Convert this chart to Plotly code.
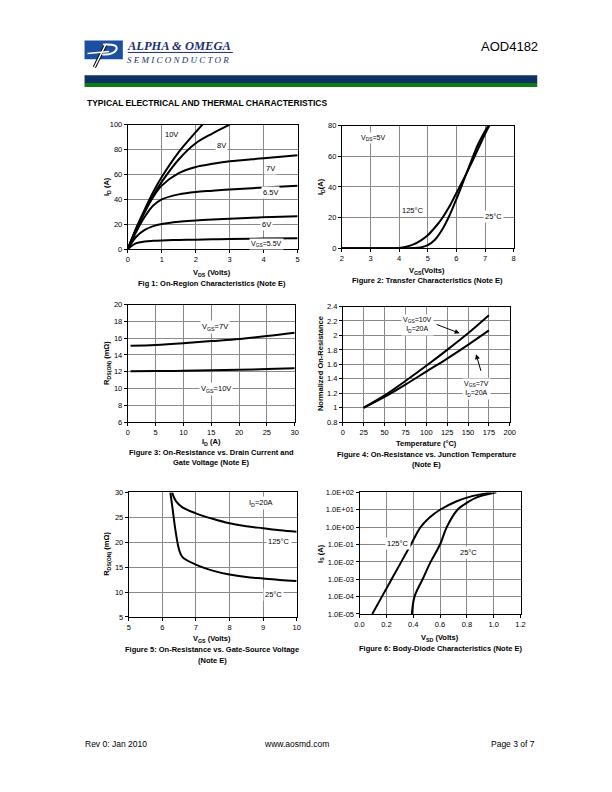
import plotly.graph_objects as go

W, H = 612, 792
def X(px): return px / W
def Y(py): return 1 - py / H

# ---------------- DATA ----------------
# Fig 1: On-region characteristics (ID vs VDS)
f1_vds_10 = [0, 0.25, 0.5, 0.75, 1.0, 1.5, 2.0, 2.2]
f1_id_10 = [0, 17, 32, 46, 58, 78, 94, 100]
f1_vds_8 = [0, 0.25, 0.5, 0.75, 1.0, 1.5, 2.0, 2.5, 3.0]
f1_id_8 = [0, 16, 30, 43, 54, 72, 85, 93, 100]
f1_vds = [0, 0.25, 0.5, 0.75, 1.0, 1.5, 2.0, 2.5, 3.0, 4.0, 5.0]
f1_id_7 = [0, 16, 30, 42, 51, 61, 66, 68.5, 70.5, 73, 75.5]
f1_id_65 = [0, 14, 26, 35, 40, 44, 46, 47, 48, 49.5, 51]
f1_id_6 = [0, 10, 15.5, 18.5, 20.2, 22, 23, 23.8, 24.5, 25.6, 26.5]
f1_id_55 = [0, 4.8, 6.2, 6.7, 7.0, 7.4, 7.6, 7.9, 8.1, 8.5, 8.8]

# Fig 2: Transfer characteristics (ID vs VGS)
f2_vgs_125 = [2, 3, 4.0, 4.25, 4.5, 4.75, 5.0, 5.25, 5.5, 5.75, 6.0, 6.25, 6.5, 6.75, 7.0, 7.15]
f2_id_125 = [0, 0, 0.2, 1.0, 2.5, 5, 8.5, 13.5, 19.5, 27, 36, 45, 54.5, 64.5, 74.5, 80]
f2_vgs_25 = [2, 3, 4.0, 4.5, 4.75, 5.0, 5.25, 5.5, 5.75, 6.0, 6.25, 6.5, 6.75, 7.0, 7.12]
f2_id_25 = [0, 0, 0, 0.1, 0.5, 2, 5.5, 12, 21, 32, 44, 56, 67.5, 76.5, 80]

# Fig 3: RDS(on) vs ID
f3_id = [0.5, 5, 10, 15, 20, 25, 30]
f3_r_7 = [15.1, 15.2, 15.4, 15.65, 15.9, 16.25, 16.65]
f3_r_10 = [12.05, 12.08, 12.12, 12.18, 12.25, 12.32, 12.42]

# Fig 4: Normalized on-resistance vs temperature
f4_t = [25, 50, 75, 100, 125, 150, 175]
f4_r_10 = [1.0, 1.17, 1.37, 1.58, 1.8, 2.03, 2.28]
f4_r_7 = [1.0, 1.15, 1.32, 1.5, 1.68, 1.87, 2.07]

# Fig 5: RDS(on) vs VGS
f5_vgs_25 = [6.24, 6.3, 6.4, 6.5, 6.6, 7.0, 7.5, 8.0, 8.5, 9.0, 9.5, 10.0]
f5_r_25 = [30, 27, 22, 18.5, 17, 15.5, 14.3, 13.5, 13.0, 12.7, 12.4, 12.2]
f5_vgs_125 = [6.29, 6.4, 6.6, 7.0, 7.5, 8.0, 8.5, 9.0, 9.5, 10.0]
f5_r_125 = [30, 28.3, 27, 25.8, 24.7, 23.8, 23.2, 22.8, 22.4, 22.1]

# Fig 6: Body diode characteristics
f6_v_125 = [0.095, 0.167, 0.239, 0.311, 0.383, 0.455, 0.52, 0.6, 0.72, 0.82, 0.98]
f6_i_125 = [1e-5, 1e-4, 1e-3, 1e-2, 1e-1, 1e0, 3.5, 1e1, 30, 55, 100]
f6_v_25 = [0.39, 0.41, 0.47, 0.53, 0.60, 0.65, 0.73, 0.78, 0.87, 1.02]
f6_i_25 = [1e-5, 1e-4, 1e-3, 1e-2, 1e-1, 1e0, 1e1, 20, 50, 100]
f6_tickvals = [1e-5, 1e-4, 1e-3, 1e-2, 1e-1, 1e0, 1e1, 1e2]
f6_ticktext = ["1.0E-05", "1.0E-04", "1.0E-03", "1.0E-02", "1.0E-01", "1.0E+00", "1.0E+01", "1.0E+02"]

# ---------------- FIGURE ----------------
FONT = "Liberation Sans, Arial, sans-serif"
fig = go.Figure()
line = dict(color="black", width=2)

def add(x, y, n, shape="spline"):
    fig.add_trace(go.Scatter(x=x, y=y, mode="lines", line=dict(line, shape=shape),
                             xaxis="x" + ("" if n == 1 else str(n)),
                             yaxis="y" + ("" if n == 1 else str(n)),
                             showlegend=False, hoverinfo="skip"))

for xs, ys in [(f1_vds_10, f1_id_10), (f1_vds_8, f1_id_8), (f1_vds, f1_id_7),
               (f1_vds, f1_id_65), (f1_vds, f1_id_6), (f1_vds, f1_id_55)]:
    add(xs, ys, 1)
add(f2_vgs_125, f2_id_125, 2)
add(f2_vgs_25, f2_id_25, 2)
add(f3_id, f3_r_7, 3)
add(f3_id, f3_r_10, 3)
add(f4_t, f4_r_10, 4)
add(f4_t, f4_r_7, 4)
add(f5_vgs_25, f5_r_25, 5)
add(f5_vgs_125, f5_r_125, 5)
add(f6_v_125, f6_i_125, 6)
add(f6_v_25, f6_i_25, 6)

def xax(x0, x1, rng, dtick, fmt=None):
    d = dict(domain=[X(x0), X(x1)], range=rng, dtick=dtick, tick0=rng[0],
             showgrid=True, gridcolor="#8a8a8a", gridwidth=1,
             showline=True, linecolor="black", linewidth=1, mirror=True,
             ticks="outside", ticklen=3, tickcolor="black",
             tickfont=dict(family=FONT, size=7.5, color="black"), zeroline=False,
             fixedrange=True)
    if fmt: d["tickformat"] = fmt
    return d

def yax(y0, y1, rng, dtick, anchor, **kw):
    d = dict(domain=[Y(y1), Y(y0)], range=rng, dtick=dtick, tick0=rng[0],
             showgrid=True, gridcolor="#8a8a8a", gridwidth=1,
             showline=True, linecolor="black", linewidth=1, mirror=True,
             ticks="outside", ticklen=3, tickcolor="black",
             tickfont=dict(family=FONT, size=7.5, color="black"), zeroline=False,
             anchor=anchor, fixedrange=True)
    d.update(kw)
    return d

layout = dict(
    width=W, height=H, margin=dict(l=0, r=0, t=0, b=0),
    paper_bgcolor="white", plot_bgcolor="white", showlegend=False,
    font=dict(family=FONT, color="black"),
    xaxis=dict(xax(125, 298, [0, 5], 1), anchor="y"),
    yaxis=yax(122, 248, [0, 100], 20, "x"),
    xaxis2=dict(xax(343, 518, [2, 8], 1), anchor="y2"),
    yaxis2=yax(123, 247, [0, 80], 20, "x2"),
    xaxis3=dict(xax(125, 295, [0, 30], 5), anchor="y3"),
    yaxis3=yax(304, 423, [6, 20], 2, "x3"),
    xaxis4=dict(xax(344, 514, [0, 200], 25), anchor="y4"),
    yaxis4=yax(306, 423, [0.8, 2.4], 0.2, "x4",
               tickvals=[0.8, 1, 1.2, 1.4, 1.6, 1.8, 2, 2.2, 2.4],
               ticktext=["0.8", "1", "1.2", "1.4", "1.6", "1.8", "2", "2.2", "2.4"]),
    xaxis5=dict(xax(126, 297, [5, 10], 1), anchor="y5"),
    yaxis5=yax(494, 620, [5, 30], 5, "x5"),
    xaxis6=dict(xax(361, 525, [0, 1.2], 0.2, ".1f"), anchor="y6"),
    yaxis6=yax(494, 617, [-5, 2], None, "x6", type="log",
               tickvals=f6_tickvals, ticktext=f6_ticktext),
)
fig.update_layout(**layout)

ann = []
def ptxt(px, py, text, size=7.5, bold=False, xanchor="center", color="black",
         angle=0, family=FONT):
    t = f"<b>{text}</b>" if bold else text
    ann.append(dict(x=X(px), y=Y(py), xref="paper", yref="paper", text=t,
                    showarrow=False, xanchor=xanchor, yanchor="middle",
                    textangle=angle, font=dict(family=family, size=size, color=color)))

def dtxt(n, x, y, text, size=7.5):
    s = "" if n == 1 else str(n)
    ann.append(dict(x=x, y=y, xref="x" + s, yref="y" + s, text=text, showarrow=False,
                    bgcolor="white", borderpad=1,
                    font=dict(family=FONT, size=size, color="black")))

# Header
ptxt(545, 43, "AOD4182", size=13, xanchor="right")
ptxt(81, 100, "TYPICAL ELECTRICAL AND THERMAL CHARACTERISTICS", size=8.5, bold=True, xanchor="left")
ptxt(122, 42, "<b><i>ALPHA &amp; OMEGA</i></b>", size=12.5, xanchor="left",
     color="#1c2f6e", family="Liberation Serif, serif")
ptxt(122, 56.5, "<i>S E M I C O N D U C T O R</i>", size=9, xanchor="left",
     color="#1c2f6e", family="Liberation Serif, serif")

# Footer
ptxt(79, 748, "Rev 0: Jan 2010", size=8.5, xanchor="left")
ptxt(297, 748, "www.aosmd.com", size=8.5)
ptxt(542, 748, "Page 3 of 7", size=8.5, xanchor="right")

# Axis titles & captions
ptxt(211, 272, "<b>V<sub>DS</sub> (Volts)</b>", size=7.5)
ptxt(211, 283, "Fig 1: On-Region Characteristics (Note E)", size=7.5, bold=True)
ptxt(104, 185, "<b>I<sub>D</sub> (A)</b>", size=7.5, angle=-90)

ptxt(430, 270, "<b>V<sub>GS</sub>(Volts)</b>", size=7.5)
ptxt(430, 280, "Figure 2: Transfer Characteristics (Note E)", size=7.5, bold=True)
ptxt(322, 185, "<b>I<sub>D</sub>(A)</b>", size=7.5, angle=-90)

ptxt(210, 443.5, "<b>I<sub>D</sub> (A)</b>", size=7.5)
ptxt(210, 454, "Figure 3: On-Resistance vs. Drain Current and", size=7.5, bold=True)
ptxt(210, 464, "Gate Voltage (Note E)", size=7.5, bold=True)
ptxt(104, 363, "<b>R<sub>DS(ON)</sub> (m\u03a9)</b>", size=7.5, angle=-90)

ptxt(429, 445, "<b>Temperature (\u00b0C)</b>", size=7.5)
ptxt(429, 456, "Figure 4: On-Resistance vs. Junction Temperature", size=7.5, bold=True)
ptxt(429, 466, "(Note E)", size=7.5, bold=True)
ptxt(322, 364, "Normalized On-Resistance", size=7.5, bold=True, angle=-90)

ptxt(211, 642, "<b>V<sub>GS</sub> (Volts)</b>", size=7.5)
ptxt(211, 653, "Figure 5: On-Resistance vs. Gate-Source Voltage", size=7.5, bold=True)
ptxt(211, 664, "(Note E)", size=7.5, bold=True)
ptxt(104, 556, "<b>R<sub>DS(ON)</sub> (m\u03a9)</b>", size=7.5, angle=-90)

ptxt(443, 641, "<b>V<sub>SD</sub> (Volts)</b>", size=7.5)
ptxt(443, 652, "Figure 6: Body-Diode Characteristics (Note E)", size=7.5, bold=True)
ptxt(321, 556, "<b>I<sub>S</sub> (A)</b>", size=7.5, angle=-90)

# In-plot labels
dtxt(1, 1.3, 92, "10V")
dtxt(1, 2.75, 83, "8V")
dtxt(1, 4.19, 65, "7V")
dtxt(1, 4.19, 45.5, "6.5V")
dtxt(1, 4.09, 19.8, "6V")
dtxt(1, 4.07, 4, "V<sub>GS</sub>=5.5V", size=7)

dtxt(2, 3.1, 72, "V<sub>DS</sub>=5V", size=7)
dtxt(2, 4.48, 24.3, "125\u00b0C")
dtxt(2, 7.28, 21, "25\u00b0C")

dtxt(3, 15.6, 17.3, "V<sub>GS</sub>=7V")
dtxt(3, 15.9, 9.95, "V<sub>GS</sub>=10V")

dtxt(4, 89, 2.14, "V<sub>GS</sub>=10V<br>I<sub>D</sub>=20A", size=7)
dtxt(4, 160, 1.26, "V<sub>GS</sub>=7V<br>I<sub>D</sub>=20A", size=7)
ann.append(dict(x=140, y=2.03, ax=110.6, ay=2.16, xref="x4", yref="y4", axref="x4", ayref="y4",
                showarrow=True, arrowhead=2, arrowsize=1, arrowwidth=1, arrowcolor="black", text=""))
ann.append(dict(x=159.6, y=1.74, ax=166, ay=1.49, xref="x4", yref="y4", axref="x4", ayref="y4",
                showarrow=True, arrowhead=2, arrowsize=1, arrowwidth=1, arrowcolor="black", text=""))

dtxt(5, 8.93, 27.8, "I<sub>D</sub>=20A")
dtxt(5, 9.46, 20.1, "125\u00b0C")
dtxt(5, 9.3, 9.5, "25\u00b0C")

dtxt(6, 0.285, -0.93, "125\u00b0C")
dtxt(6, 0.81, -1.45, "25\u00b0C")

fig.update_layout(annotations=ann)

# Shapes: header bands & logo
shapes = [
    dict(type="rect", xref="paper", yref="paper", x0=X(81), x1=X(542), y0=Y(80), y1=Y(72),
         fillcolor="#0d3263", line=dict(width=0), layer="above"),
    dict(type="rect", xref="paper", yref="paper", x0=X(81), x1=X(542), y0=Y(84), y1=Y(80),
         fillcolor="#0b7d12", line=dict(width=0), layer="above"),
    dict(type="rect", xref="paper", yref="paper", x0=X(81), x1=X(120), y0=Y(56), y1=Y(37),
         fillcolor="#1b4fa0", line=dict(width=0), layer="above"),
    dict(type="line", xref="paper", yref="paper", x0=X(125), x1=X(232), y0=Y(49), y1=Y(49),
         line=dict(color="#1c2f6e", width=1), layer="above"),
    # logo glyph
    dict(type="path", xref="paper", yref="paper",
         path=f"M {X(91)} {Y(64)} L {X(103)} {Y(40)}", line=dict(color="black", width=3.5), layer="above"),
    dict(type="path", xref="paper", yref="paper",
         path=f"M {X(91)} {Y(64)} L {X(103)} {Y(40)}", line=dict(color="white", width=1.5), layer="above"),
    dict(type="path", xref="paper", yref="paper",
         path=f"M {X(100)} {Y(41)} Q {X(117)} {Y(40)} {X(113)} {Y(47)} Q {X(109)} {Y(52)} {X(99)} {Y(51)}",
         line=dict(color="white", width=2), layer="above"),
    dict(type="path", xref="paper", yref="paper",
         path=f"M {X(84)} {Y(50)} L {X(106)} {Y(48)}",
         line=dict(color="white", width=1.5), layer="above"),
]
fig.update_layout(shapes=shapes)

fig.write_html("out.html", config={"displayModeBar": False},
               post_script="document.body.style.margin='0';document.body.style.overflow='hidden';"
                           "document.documentElement.style.overflow='hidden';")
